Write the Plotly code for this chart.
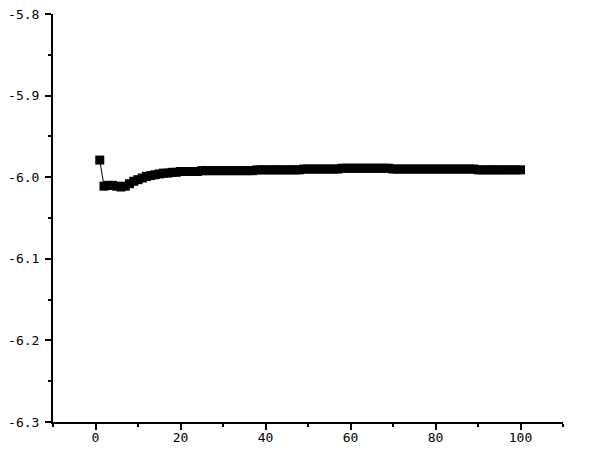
import plotly.graph_objects as go

# iteration index and value
steps = list(range(1, 101))
values = [
    -5.979, -6.011, -6.010, -6.010, -6.011, -6.012, -6.011, -6.008, -6.005, -6.003,
    -6.001, -5.999, -5.998, -5.997, -5.996, -5.995, -5.995, -5.994, -5.994, -5.993,
    -5.993, -5.993, -5.993, -5.993, -5.992, -5.992, -5.992, -5.992, -5.992, -5.992,
    -5.992, -5.992, -5.992, -5.992, -5.992, -5.992, -5.992, -5.991, -5.991, -5.991,
    -5.991, -5.991, -5.991, -5.991, -5.991, -5.991, -5.991, -5.991, -5.990, -5.990,
    -5.990, -5.990, -5.990, -5.990, -5.990, -5.990, -5.990, -5.989, -5.989, -5.989,
    -5.989, -5.989, -5.989, -5.989, -5.989, -5.989, -5.989, -5.989, -5.989, -5.990,
    -5.990, -5.990, -5.990, -5.990, -5.990, -5.990, -5.990, -5.990, -5.990, -5.990,
    -5.990, -5.990, -5.990, -5.990, -5.990, -5.990, -5.990, -5.990, -5.990, -5.991,
    -5.991, -5.991, -5.991, -5.991, -5.991, -5.991, -5.991, -5.991, -5.991, -5.991,
]

x_ticks = [0, 20, 40, 60, 80, 100]
y_ticks = [-6.3, -6.2, -6.1, -6.0, -5.9, -5.8]
y_labels = ["-6.3", "-6.2", "-6.1", "-6.0", "-5.9", "-5.8"]

fig = go.Figure()
fig.add_trace(go.Scatter(
    x=steps, y=values, mode="lines+markers",
    line=dict(color="black", width=1),
    marker=dict(symbol="square", size=9, color="black"),
    showlegend=False,
))

axis_font = dict(family="DejaVu Sans Mono", size=13, color="black")

# page body adds an 8px offset, so margins are pulled in to compensate
fig.update_layout(
    width=598, height=460,
    margin=dict(l=45, r=43, t=6, b=46),
    paper_bgcolor="white", plot_bgcolor="white",
)
fig.update_xaxes(
    range=[-10, 110], tickvals=x_ticks, automargin=False,
    showgrid=False, zeroline=False,
    showline=True, linecolor="black", linewidth=2,
    ticks="outside", ticklen=6, tickwidth=2, tickcolor="black",
    minor=dict(dtick=10, tick0=0, ticks="outside", ticklen=3, tickwidth=2, tickcolor="black"),
    tickfont=axis_font, ticklabelstandoff=-4, ticklabeloverflow="allow",
)
fig.update_yaxes(
    range=[-6.3, -5.8], tickvals=y_ticks, ticktext=y_labels, automargin=False,
    showgrid=False, zeroline=False,
    showline=True, linecolor="black", linewidth=2,
    ticks="outside", ticklen=6, tickwidth=2, tickcolor="black",
    minor=dict(dtick=0.05, tick0=-6.3, ticks="outside", ticklen=3, tickwidth=2, tickcolor="black"),
    tickfont=axis_font, ticklabelstandoff=3, ticklabeloverflow="allow",
)

fig.write_html("out.html")
